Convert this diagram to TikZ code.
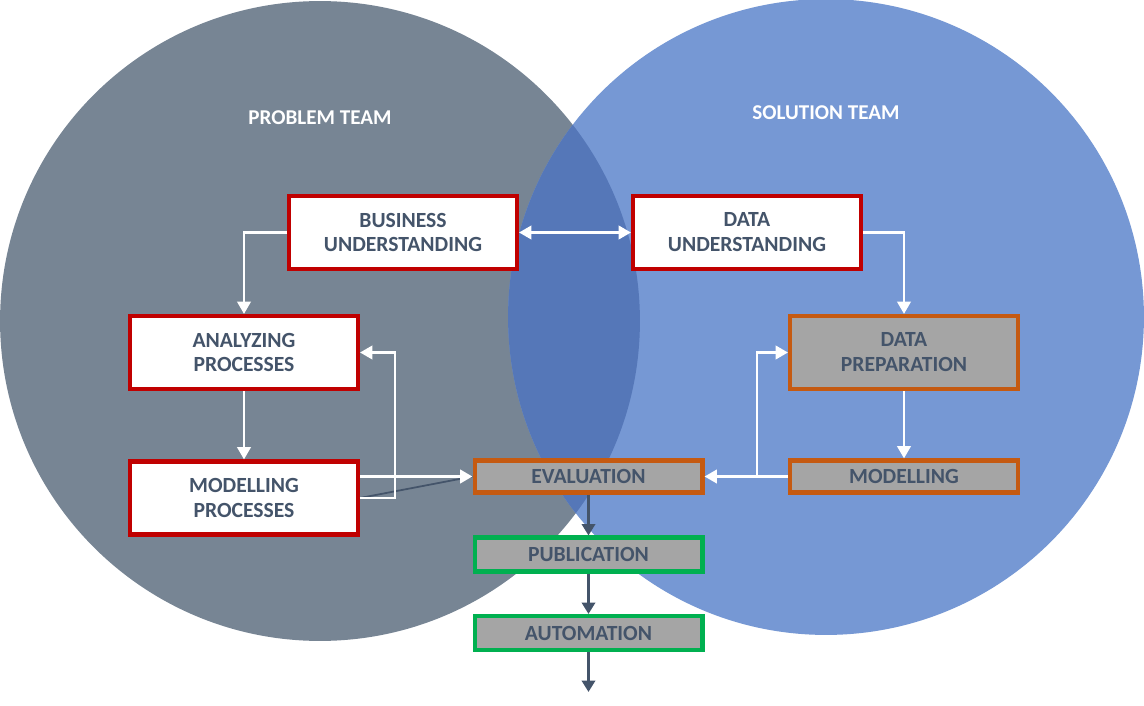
\documentclass[tikz,border=0pt]{standalone}
\usepackage{fontspec}
\setmainfont{Carlito}
\usetikzlibrary{arrows.meta,positioning}

\definecolor{probgray}{HTML}{778594}
\definecolor{solblue}{HTML}{7698D4}
\definecolor{lensblue}{HTML}{5577B8}
\definecolor{txtblue}{HTML}{44546A}
\definecolor{redline}{HTML}{C00000}
\definecolor{orangeline}{HTML}{C55A11}
\definecolor{greenline}{HTML}{00B050}
\definecolor{boxgray}{HTML}{A5A5A5}

\tikzset{
  stage/.style={draw,line width=2.3pt,minimum width=4.56cm,inner sep=0pt,align=center,
    font=\fontsize{12.3}{14.2}\selectfont\bfseries,text=txtblue},
  bizstage/.style={stage,draw=redline,fill=white,minimum height=1.46cm},
  datastage/.style={stage,draw=orangeline,fill=boxgray},
  runstage/.style={stage,draw=greenline,fill=boxgray,minimum height=0.68cm},
  teamlabel/.style={text=white,font=\fontsize{12}{14}\selectfont\bfseries},
  whiteline/.style={draw=white,line width=1.7pt,>={Triangle[length=7pt,width=7.5pt]}},
  darkline/.style={draw=txtblue,line width=1.7pt,>={Triangle[length=6.5pt,width=7.5pt]}}
}

\begin{document}
\begin{tikzpicture}[x=0.02cm,y=-0.02cm]
\useasboundingbox[fill=white] (0,0) rectangle (1144,706);

% the two teams
\fill[probgray] (320,321) circle[radius=6.4cm];
\fill[solblue] (826,317) circle[radius=6.36cm];
\begin{scope}
  \clip (320,321) circle[radius=6.4cm];
  \fill[lensblue] (826,317) circle[radius=6.36cm];
\end{scope}

\node[teamlabel] (prob) at (320,118) {PROBLEM TEAM};
\node[teamlabel] (sol) at (826,113) {SOLUTION TEAM};

% stages
\node[bizstage] (bu) at (403,232.5) {BUSINESS\\UNDERSTANDING};
\node[bizstage] (du) at (747,232.5) {DATA\\UNDERSTANDING};
\node[bizstage] (ap) at (244,352.5) {ANALYZING\\PROCESSES};
\node[bizstage] (mp) at (244,498) {MODELLING\\PROCESSES};
\node[datastage,minimum height=1.46cm] (dp) at (904,352.5) {DATA\\PREPARATION};
\node[datastage,minimum height=0.64cm] (mo) at (904,476.5) {MODELLING};
\node[datastage,minimum height=0.64cm] (ev) at (588.5,476.5) {EVALUATION};
\node[runstage] (pu) at (588.5,554.5) {PUBLICATION};
\node[runstage] (au) at (588.5,633) {AUTOMATION};

\coordinate (split) at (757,476.5);
\coordinate (out) at (588.5,692);

% connectors
\draw[txtblue,line width=1pt] (mp.east) -- (ev.west);

\draw[whiteline,<->] (bu.east) -- (du.west);
\draw[whiteline,->] (bu.west) -| (ap.north);
\draw[whiteline,->] (du.east) -| (dp.north);
\draw[whiteline,->] (ap.south) -- (mp.north);
\draw[whiteline,->] (dp.south) -- (mo.north);
\draw[whiteline,->] (mp.east |- ev.west) -- (ev.west);
\draw[whiteline,->] (mp.east) -- ++(35,0) |- (ap.east);
\draw[whiteline,->] (mo.west) -- (ev.east);
\draw[whiteline,->] (split) |- (dp.west);

\foreach \a/\b in {ev/pu,pu/au}
  \draw[darkline,->] (\a.south) -- (\b.north);
\draw[darkline,->] (au.south) -- (out);
\end{tikzpicture}
\end{document}
